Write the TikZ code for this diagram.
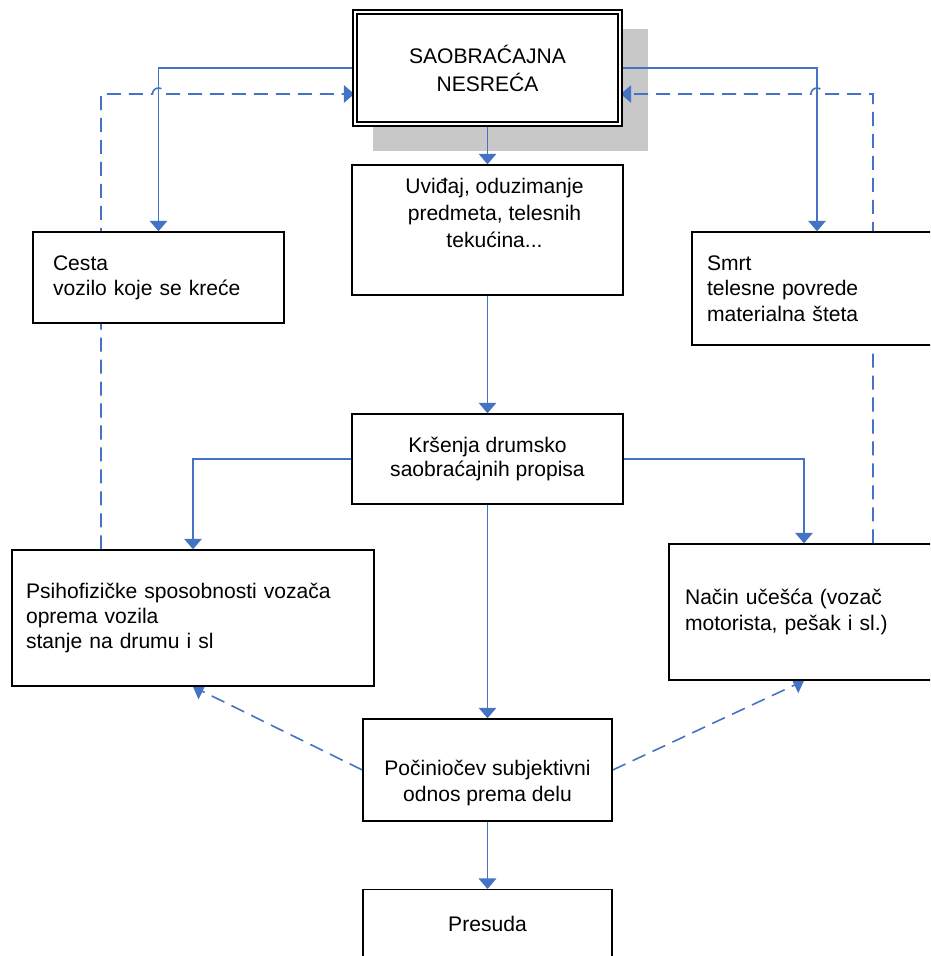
\documentclass[tikz,border=0pt]{standalone}
\usepackage{fontspec}
\setmainfont{Liberation Sans}
\usetikzlibrary{arrows.meta,backgrounds}
\definecolor{lineblue}{HTML}{4472C4}
\definecolor{shadowgray}{HTML}{C8C8C8}
\tikzset{
  box/.style={draw=black, line width=0.8pt, fill=white, rectangle, inner sep=0pt,
    font=\fontsize{12}{14.4}\selectfont},
  txt/.style={inner sep=0pt, align=center, font=\fontsize{12}{15.3}\selectfont},
  link/.style={draw=lineblue, line width=0.9pt, -{Triangle[width=10pt,length=6pt]}},
  backlink/.style={link, dash pattern=on 8pt off 4.5pt}
}
\begin{document}
\begin{tikzpicture}[x=0.02cm, y=-0.02cm]
  \useasboundingbox (0,0) rectangle (930,956);
  \clip (0,0) rectangle (930,956);
  % boxes
  \node[box, double, double distance=1.5pt, minimum width=5.3cm, minimum height=2.24cm,
    align=center, font=\fontsize{12}{15.9}\selectfont] (nesreca) at (487.5,68) {SAOBRAĆAJNA\\NESREĆA};
  \node[box, minimum width=5.42cm, minimum height=2.6cm] (uvidjaj) at (487.5,230) {};
  \node[txt] (uvidjajT) at ([shift={(7,-17)}]uvidjaj.center) {Uviđaj, oduzimanje\\predmeta, telesnih\\tekućina...};
  \node[box, minimum width=5.42cm, minimum height=1.8cm, align=center,
    font=\fontsize{12}{13.6}\selectfont] (krsenja) at (487.5,459) {Kršenja drumsko\\saobraćajnih propisa};
  \node[box, minimum width=5.02cm, minimum height=1.82cm, text width=4.22cm, inner xsep=0.4cm,
    align=left] (cesta) at (158.5,277.5) {Cesta\\vozilo koje se kreće};
  \node[box, minimum width=5cm, minimum height=2.26cm, text width=4.4cm, inner xsep=0.3cm,
    align=left] (smrt) at (817,288.5) {Smrt\\telesne povrede\\materialna šteta};
  \node[box, minimum width=7.24cm, minimum height=2.72cm, text width=6.68cm, inner xsep=0.28cm,
    align=left] (psiho) at (193,618) {Psihofizičke sposobnosti vozača\\oprema vozila\\stanje na drumu i sl};
  \node[box, minimum width=5.4cm, minimum height=2.72cm, text width=4.76cm, inner xsep=0.32cm,
    align=left] (nacin) at (804,612) {Način učešća (vozač\\motorista, pešak i sl.)};
  \node[box, minimum width=4.98cm, minimum height=2.04cm] (pociniocev) at (487.5,770) {};
  \node[txt, font=\fontsize{12}{14.7}\selectfont] (pociniocevT) at ([shift={(0,13)}]pociniocev.center) {Počiniočev subjektivni\\odnos prema delu};
  \node[box, minimum width=4.98cm, minimum height=2.4cm, anchor=north] (presuda) at (487.5,889) {};
  \node[txt] (presudaT) at ([shift={(0,35)}]presuda.north) {Presuda};
  % connectors
  \begin{pgfonlayer}{background}
    \fill[shadowgray] ([shift={(19,18)}]nesreca.north west) rectangle ([shift={(27,26)}]nesreca.south east);
    \coordinate (nesrecaL) at ([shift={(0,26)}]nesreca.west);
    \coordinate (nesrecaR) at ([shift={(0,26)}]nesreca.east);
    \coordinate (hopL) at (nesrecaL -| cesta.north);
    \coordinate (hopR) at (nesrecaR -| smrt.north);
    \draw[link] (nesreca.west) -| (cesta.north);
    \draw[link] (nesreca.east) -| (smrt.north);
    \draw[link] (nesreca.south) -- (uvidjaj.north);
    \draw[link] (uvidjaj.south) -- (krsenja.north);
    \draw[link] (krsenja.west) -| (psiho.north);
    \draw[link] (krsenja.east) -| (nacin.north);
    \draw[link] (krsenja.south) -- (pociniocev.north);
    \draw[link] (pociniocev.south) -- (presuda.north);
    \draw[backlink] ([shift={(-92,0)}]psiho.north) |- ([shift={(-6,0)}]hopL)
      arc[start angle=180, end angle=0, radius=0.12cm] -- (nesrecaL);
    \draw[backlink] ([shift={(69,0)}]nacin.north) |- ([shift={(6,0)}]hopR)
      arc[start angle=0, end angle=180, radius=0.12cm] -- (nesrecaR);
    \draw[backlink] (pociniocev.west) -- (psiho.south);
    \draw[backlink] (pociniocev.east) -- (nacin.south);
  \end{pgfonlayer}
\end{tikzpicture}
\end{document}
